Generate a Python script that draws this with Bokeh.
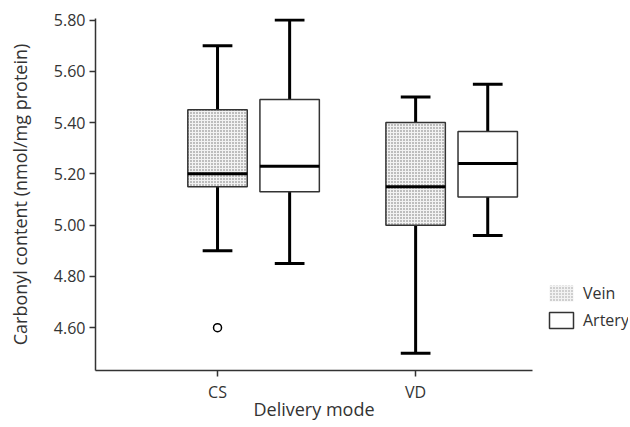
from bokeh.plotting import figure
from bokeh.layouts import row
from bokeh.models import (Range1d, FixedTicker, NumeralTickFormatter, Legend, LegendItem,
                          ColumnDataSource)
from bokeh.embed import file_html
from bokeh.resources import INLINE

# ---- data ----
groups = ["CS", "VD"]
vein_min = [4.90, 4.50]
vein_q1 = [5.15, 5.00]
vein_med = [5.20, 5.15]
vein_q3 = [5.45, 5.40]
vein_max = [5.70, 5.50]

artery_min = [4.85, 4.96]
artery_q1 = [5.13, 5.11]
artery_med = [5.23, 5.24]
artery_q3 = [5.49, 5.365]
artery_max = [5.80, 5.55]

outlier_group = ["CS"]
outlier_value = [4.60]

y_ticks = [4.60, 4.80, 5.00, 5.20, 5.40, 5.60, 5.80]
series_labels = ["Vein", "Artery"]

# ---- layout ----
FONT = "Open Sans"
H = 425
gx = [i + 1 for i in range(len(groups))]
offset = 0.364
box_w = 0.30
cap_w = 0.15
VEIN_STYLE = dict(fill_color="#f2f2f2", hatch_pattern="dot", hatch_scale=3,
                  hatch_color="#6e6e6e", hatch_weight=1.2)

p = figure(width=540, height=H, output_backend="svg", toolbar_location=None,
           x_range=Range1d(0.384, 2.59), y_range=Range1d(4.433, 5.806),
           min_border_left=95, min_border_right=8, min_border_top=18, min_border_bottom=55)
p.outline_line_color = None
p.xgrid.visible = False
p.ygrid.visible = False

def draw(xs, mn, q1, md, q3, mx, hatch):
    src = ColumnDataSource(dict(x=xs, mn=mn, q1=q1, md=md, q3=q3, mx=mx,
                                xl=[x - box_w / 2 for x in xs], xr=[x + box_w / 2 for x in xs],
                                cl=[x - cap_w / 2 for x in xs], cr=[x + cap_w / 2 for x in xs]))
    p.segment(x0="x", y0="q3", x1="x", y1="mx", source=src, line_color="black", line_width=3)
    p.segment(x0="x", y0="q1", x1="x", y1="mn", source=src, line_color="black", line_width=3)
    p.segment(x0="cl", y0="mx", x1="cr", y1="mx", source=src, line_color="black", line_width=3)
    p.segment(x0="cl", y0="mn", x1="cr", y1="mn", source=src, line_color="black", line_width=3)
    if hatch:
        p.vbar(x="x", width=box_w, top="q3", bottom="q1", source=src,
               line_color="#333333", line_width=1.5, **VEIN_STYLE)
    else:
        p.vbar(x="x", width=box_w, top="q3", bottom="q1", source=src,
               fill_color="white", line_color="#333333", line_width=1.5)
    p.segment(x0="xl", y0="md", x1="xr", y1="md", source=src, line_color="black", line_width=3)

draw(gx, vein_min, vein_q1, vein_med, vein_q3, vein_max, True)
draw([x + offset for x in gx], artery_min, artery_q1, artery_med, artery_q3, artery_max, False)

ox = [gx[groups.index(g)] for g in outlier_group]
p.scatter(ox, outlier_value, marker="circle", size=8, fill_color="white",
          line_color="black", line_width=1.5)

# axes
p.yaxis.ticker = FixedTicker(ticks=y_ticks)
p.yaxis.formatter = NumeralTickFormatter(format="0.00")
p.xaxis.ticker = FixedTicker(ticks=gx)
p.xaxis.major_label_overrides = {x: g for x, g in zip(gx, groups)}
for ax in (p.xaxis, p.yaxis):
    ax.axis_line_color = "#333333"
    ax.axis_line_width = 1.5
    ax.major_tick_line_color = "#333333"
    ax.major_tick_line_width = 1.5
    ax.major_tick_in = 0
    ax.major_tick_out = 6
    ax.minor_tick_line_color = None
    ax.major_label_text_font = FONT
    ax.major_label_text_font_size = "16px"
    ax.major_label_text_color = "#333333"
    ax.major_label_standoff = 4
    ax.axis_label_text_font = FONT
    ax.axis_label_text_font_size = "18px"
    ax.axis_label_text_font_style = "normal"
    ax.axis_label_text_color = "#333333"
p.xaxis.axis_label = "Delivery mode"
p.yaxis.axis_label = "Carbonyl content (nmol/mg protein)"
p.xaxis.axis_label_standoff = -9
p.yaxis.axis_label_standoff = 19

# legend panel (separate small figure to the right; its frame aligns with the main one)
lg = figure(width=88, height=H, output_backend="svg", toolbar_location=None,
            x_range=Range1d(0, 1), y_range=Range1d(0, 1),
            x_axis_location=None, y_axis_location=None,
            min_border_left=0, min_border_right=0, min_border_top=18, min_border_bottom=55)
lg.outline_line_color = None
lg.xgrid.visible = False
lg.ygrid.visible = False
nan = float("nan")
r_vein = lg.rect(x=[nan], y=[nan], width=1, height=1, line_alpha=0,
                 **dict(VEIN_STYLE, hatch_color="#9a9a9a"))
r_art = lg.rect(x=[nan], y=[nan], width=1, height=1, fill_color="white", line_color="#333333",
                line_width=1.5)
legend = Legend(items=[LegendItem(label=series_labels[0], renderers=[r_vein]),
                       LegendItem(label=series_labels[1], renderers=[r_art])],
                location=(6, 39), padding=0, margin=0, spacing=5,
                glyph_width=30, glyph_height=20, label_standoff=7,
                label_text_font=FONT, label_text_font_size="16px", label_text_color="#333333",
                border_line_color=None, background_fill_alpha=0)
lg.add_layout(legend, "center")

layout = row(p, lg, spacing=0)
open("out.html", "w").write(file_html(layout, INLINE))
